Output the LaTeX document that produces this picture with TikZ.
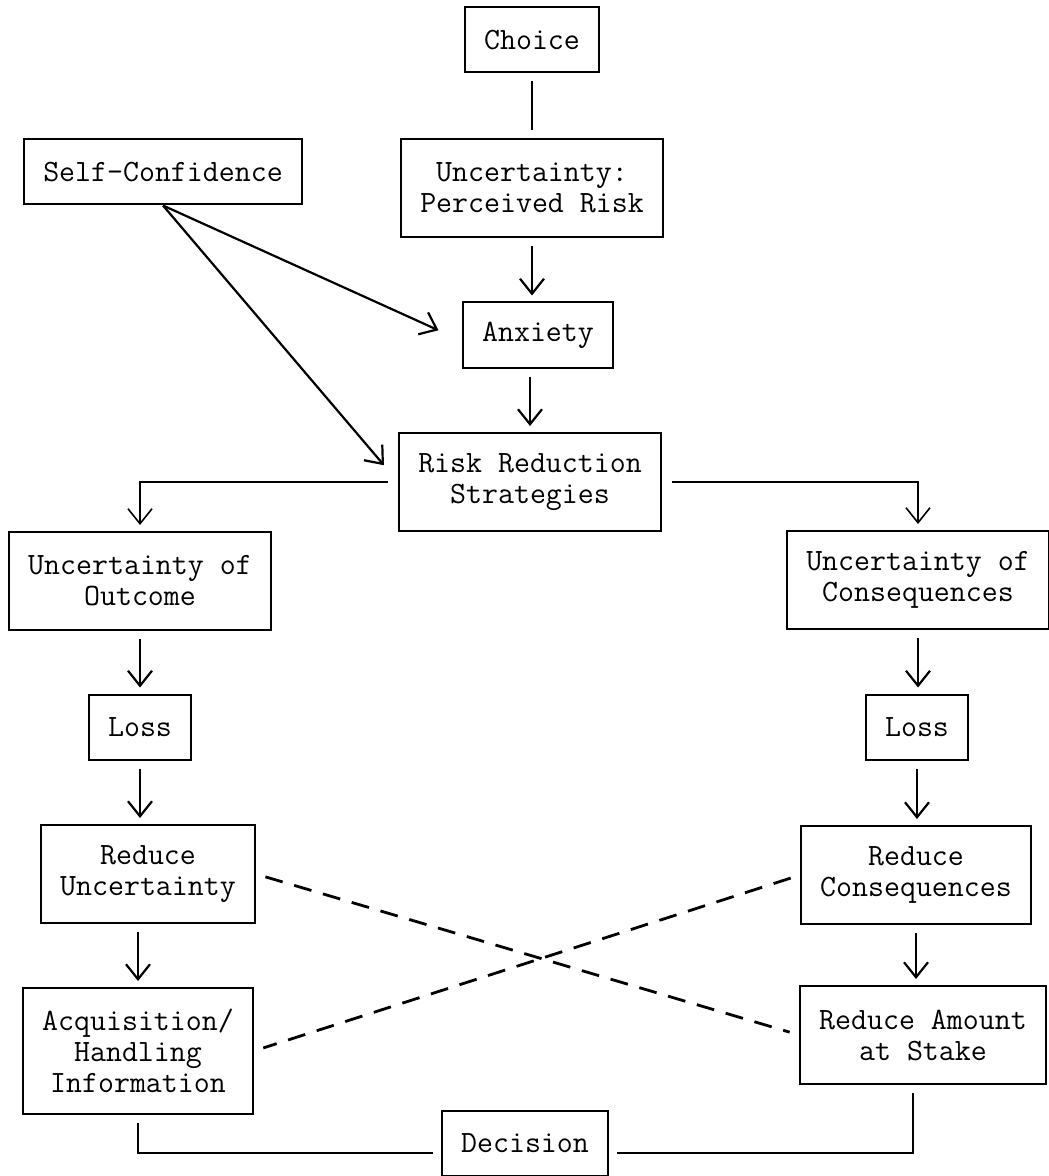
\documentclass[tikz,border=0pt]{standalone}
\usepackage{fontspec}
\usetikzlibrary{arrows.meta}

\begin{document}
\begin{tikzpicture}[x=0.5pt,y=-0.5pt,
  box/.style={draw,line width=1pt,inner xsep=9.5pt,inner ysep=0pt,align=center,
    font=\fontsize{15.5}{15.5}\selectfont\ttfamily,minimum height=32.5pt},
  twoline/.style={box,minimum height=49pt},
  threeline/.style={box,minimum height=63pt},
  link/.style={line width=1.1pt,shorten <=4pt,shorten >=3pt},
  arr/.style={link,-{Straight Barb[length=7.5pt,width=12pt]}},
  dashline/.style={line width=1.4pt,dash pattern=on 9pt off 6pt,shorten <=5pt,shorten >=5pt}]
  \useasboundingbox (0,0) rectangle (1048,1176);
  % top part
  \node[box] (choice) at (532,40) {Choice};
  \node[box] (selfconf) at (163,172) {Self-Confidence};
  \node[twoline] (percrisk) at (532,188) {Uncertainty:\\Perceived Risk};
  \node[box] (anxiety) at (538,335) {Anxiety};
  \node[twoline] (strategies) at (530,482) {Risk Reduction\\Strategies};
  % left column
  \node[twoline] (outcome) at (140,581) {Uncertainty of\\Outcome};
  \node[box] (lossout) at (140,727) {Loss};
  \node[twoline] (reduncert) at (148,874) {Reduce\\Uncertainty};
  \node[threeline] (acquisition) at (138,1051) {Acquisition/\\Handling\\Information};
  % right column
  \node[twoline] (consequences) at (918,580) {Uncertainty of\\Consequences};
  \node[box] (losscons) at (917,727) {Loss};
  \node[twoline] (redcons) at (916,875) {Reduce\\Consequences};
  \node[twoline] (redamount) at (923,1035) {Reduce Amount\\at Stake};
  \node[box] (decision) at (525,1143) {Decision};

  \draw[link,shorten >=4pt] (choice) -- (percrisk);
  \draw[arr] (percrisk.south) -- (percrisk.south |- anxiety.north);
  \draw[arr] (anxiety.south -| strategies.north) -- (strategies.north);
  \draw[arr,shorten <=0pt,shorten >=13pt] (selfconf.south) -- ([yshift=-3pt]anxiety.west);
  \draw[arr,shorten <=0pt,shorten >=11pt] (selfconf.south) -- (strategies.west);
  \draw[arr,line width=0.8pt,shorten <=5pt] (strategies.west) -| (outcome.north);
  \draw[arr,line width=0.8pt,shorten <=5pt] (strategies.east) -| (consequences.north);

  \draw[arr] (outcome.south) -- (outcome.south |- lossout.north);
  \draw[arr] (lossout.south) -- (lossout.south |- reduncert.north);
  \draw[arr] (acquisition.north |- reduncert.south) -- (acquisition.north);
  \draw[arr] (consequences.south) -- (consequences.south |- losscons.north);
  \draw[arr] (losscons.south) -- (losscons.south |- redcons.north);
  \draw[arr] (redcons.south) -- (redcons.south |- redamount.north);

  \draw[dashline] (reduncert.east) -- (redamount.west);
  \draw[dashline] (redcons.west) -- (acquisition.east);

  \draw[link,shorten >=4pt] (acquisition.south) |- ([yshift=-5pt]decision.west);
  \draw[link,shorten >=4pt] ([xshift=-5pt]redamount.south) |- ([yshift=-5pt]decision.east);
\end{tikzpicture}
\end{document}
